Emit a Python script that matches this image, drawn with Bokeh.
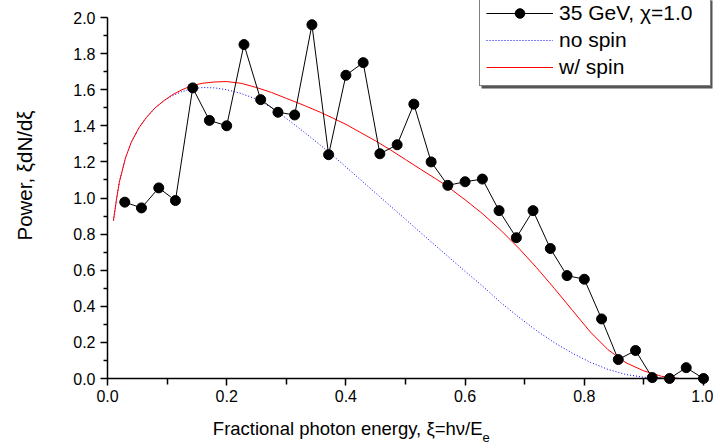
import math
from bokeh.plotting import figure
from bokeh.models import (Label, FixedTicker, LinearAxis, Range1d, BoxAnnotation,
                          Legend, LegendItem)
from bokeh.embed import file_html
from bokeh.resources import INLINE

# ---- data ----
data_x = [0.029, 0.057, 0.086, 0.114, 0.143, 0.171, 0.200, 0.229, 0.257, 0.286,
          0.314, 0.343, 0.371, 0.400, 0.429, 0.457, 0.486, 0.514, 0.543, 0.571,
          0.600, 0.629, 0.657, 0.686, 0.714, 0.743, 0.771, 0.800, 0.829, 0.857,
          0.886, 0.914, 0.943, 0.971, 1.000]
data_y = [0.977, 0.945, 1.056, 0.986, 1.61, 1.43, 1.40, 1.85, 1.545, 1.475,
          1.46, 1.96, 1.24, 1.68, 1.75, 1.245, 1.295, 1.52, 1.20, 1.07,
          1.09, 1.105, 0.93, 0.78, 0.93, 0.72, 0.57, 0.55, 0.33, 0.105,
          0.155, 0.005, 0.0, 0.06, 0.0]

spin_x = [0.010, 0.015, 0.020, 0.030, 0.040, 0.053, 0.065, 0.080, 0.095, 0.108,
          0.125, 0.142, 0.160, 0.180, 0.200, 0.225, 0.250, 0.275, 0.300, 0.330,
          0.357, 0.380, 0.400, 0.425, 0.450, 0.475, 0.500, 0.525, 0.550, 0.570,
          0.600, 0.630, 0.660, 0.690, 0.720, 0.750, 0.780, 0.810, 0.840, 0.870,
          0.900, 0.930, 0.960, 1.000]
spin_y = [0.875, 0.99, 1.09, 1.22, 1.31, 1.39, 1.445, 1.50, 1.54, 1.57,
          1.60, 1.623, 1.636, 1.643, 1.645, 1.635, 1.612, 1.585, 1.552, 1.513,
          1.475, 1.44, 1.408, 1.362, 1.316, 1.266, 1.213, 1.16, 1.108, 1.065,
          0.99, 0.911, 0.821, 0.722, 0.614, 0.498, 0.378, 0.258, 0.159, 0.087,
          0.042, 0.012, 0.0, 0.0]

nospin_x = [0.010, 0.015, 0.020, 0.030, 0.040, 0.053, 0.065, 0.080, 0.095, 0.108,
            0.125, 0.142, 0.160, 0.180, 0.200, 0.225, 0.250, 0.274, 0.300, 0.330,
            0.360, 0.390, 0.420, 0.450, 0.480, 0.510, 0.540, 0.570, 0.600, 0.630,
            0.660, 0.690, 0.720, 0.750, 0.780, 0.810, 0.840, 0.870, 0.900, 0.930,
            0.960, 1.000]
nospin_y = [0.875, 0.99, 1.09, 1.22, 1.31, 1.39, 1.445, 1.50, 1.54, 1.565,
            1.59, 1.605, 1.612, 1.61, 1.600, 1.578, 1.548, 1.503, 1.441, 1.365,
            1.285, 1.201, 1.114, 1.027, 0.940, 0.853, 0.766, 0.680, 0.594, 0.510,
            0.420, 0.340, 0.265, 0.198, 0.140, 0.090, 0.050, 0.022, 0.007, 0.001,
            0.0, 0.0]

x_ticks = [0.0, 0.2, 0.4, 0.6, 0.8, 1.0]
x_minor = [0.1, 0.3, 0.5, 0.7, 0.9]
x_tick_labels = ["0.0", "0.2", "0.4", "0.6", "0.8", "1.0"]
y_ticks = [0.0, 0.2, 0.4, 0.6, 0.8, 1.0, 1.2, 1.4, 1.6, 1.8, 2.0]
y_minor = [0.1, 0.3, 0.5, 0.7, 0.9, 1.1, 1.3, 1.5, 1.7, 1.9]
y_tick_labels = ["0.0", "0.2", "0.4", "0.6", "0.8", "1.0", "1.2", "1.4", "1.6", "1.8", "2.0"]

series_labels = ["35 GeV, \u03c7=1.0", "no spin", "w/ spin"]
x_title = "Fractional photon energy, \u03be=h\u03bd/E"
x_title_sub = "e"
y_title = "Power, \u03bedN/d\u03be"

FONT = "Liberation Sans"
W, H = 713, 447
# plot-area geometry in canvas pixels (frame covers the whole canvas)
PX0, PX1, PY0, PY1 = 107.0, 703.0, 378.0, 17.0


def dx(px):
    return x_ticks[0] + (px - PX0) / (PX1 - PX0) * (x_ticks[-1] - x_ticks[0])


def dy(py):
    return y_ticks[0] + (PY0 - py) / (PY0 - PY1) * (y_ticks[-1] - y_ticks[0])


p = figure(width=W, height=H,
           x_range=Range1d(dx(0), dx(W)), y_range=Range1d(dy(H), dy(0)),
           x_axis_location=None, y_axis_location=None,
           output_backend="svg", toolbar_location=None,
           min_border=0, min_border_left=0, min_border_right=0,
           min_border_top=0, min_border_bottom=0)
p.outline_line_color = None
p.grid.visible = False
p.background_fill_color = "white"
p.border_fill_color = "white"

xaxis = LinearAxis(fixed_location=y_ticks[0], bounds=(x_ticks[0], x_ticks[-1]))
yaxis = LinearAxis(fixed_location=x_ticks[0], bounds=(y_ticks[0], y_ticks[-1]))
p.add_layout(xaxis, "below")
p.add_layout(yaxis, "left")

for ax, ticks, minor, labels in ((xaxis, x_ticks, x_minor, x_tick_labels),
                                 (yaxis, y_ticks, y_minor, y_tick_labels)):
    ax.ticker = FixedTicker(ticks=ticks, minor_ticks=minor)
    ax.major_label_overrides = {t: l for t, l in zip(ticks, labels)}
    ax.axis_line_color = "black"
    ax.axis_line_width = 1.5
    ax.major_tick_line_color = "black"
    ax.minor_tick_line_color = "black"
    ax.major_tick_line_width = 1.5
    ax.minor_tick_line_width = 1.5
    ax.major_tick_out = 7
    ax.major_tick_in = 0
    ax.minor_tick_out = 4
    ax.minor_tick_in = 0
    ax.major_label_text_font = FONT
    ax.major_label_text_font_size = "16px"
    ax.major_label_text_color = "black"
xaxis.major_label_standoff = 4
yaxis.major_label_standoff = 5
xaxis.minor_tick_out = 6

# legend drop shadow (drawn before the legend)
p.add_layout(BoxAnnotation(left=dx(481), right=dx(712), bottom=dy(88), top=dy(-10),
                           fill_color="#555555", fill_alpha=1.0, line_color=None))

# curves and data
r_nospin = p.line(nospin_x, nospin_y, line_color="#0000ff", line_width=1,
                  line_dash="1 2")
r_spin = p.line(spin_x, spin_y, line_color="#ff0000", line_width=1)
r_dl = p.line(data_x, data_y, line_color="black", line_width=1)
r_dm = p.scatter(data_x, data_y, size=10, fill_color="black", line_color="black")

legend = Legend(items=[
    LegendItem(label=series_labels[0], renderers=[r_dl, r_dm]),
    LegendItem(label=series_labels[1], renderers=[r_nospin]),
    LegendItem(label=series_labels[2], renderers=[r_spin]),
], location=(479, H - 86))
legend.label_text_font = FONT
legend.label_text_font_size = "21px"
legend.label_text_color = "black"
legend.label_height = 24
legend.glyph_height = 24
legend.glyph_width = 67
legend.label_standoff = 6
legend.label_width = 145
legend.spacing = 3
legend.padding = 6
legend.margin = 0
legend.border_line_color = "black"
legend.border_line_width = 1
legend.background_fill_color = "white"
legend.background_fill_alpha = 1.0
p.add_layout(legend)

# axis titles
p.add_layout(Label(x=dx(482), y=dy(428), text=x_title, text_align="right",
                   text_baseline="alphabetic", text_font=FONT,
                   text_font_size="18.5px", text_color="black"))
p.add_layout(Label(x=dx(482), y=dy(437), text=x_title_sub, text_align="left",
                   text_baseline="alphabetic", text_font=FONT,
                   text_font_size="13px", text_color="black"))
p.add_layout(Label(x=dx(24), y=dy(175), text=y_title, text_align="center",
                   text_baseline="alphabetic", angle=math.pi / 2,
                   text_font=FONT, text_font_size="20.5px", text_color="black"))

open("out.html", "w").write(file_html(p, INLINE))
